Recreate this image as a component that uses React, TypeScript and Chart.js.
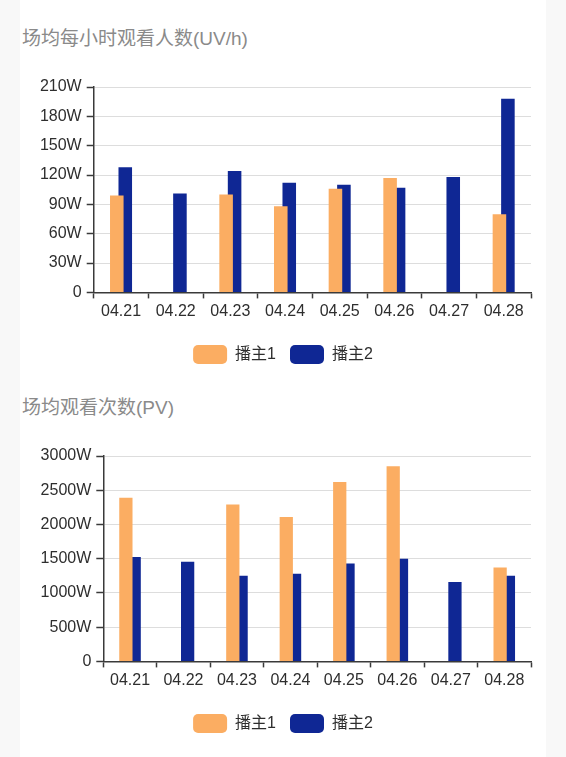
import React, { useEffect, useRef } from "react";
import { Chart, registerables } from "chart.js";

Chart.register(...registerables);

const categories = ["04.21", "04.22", "04.23", "04.24", "04.25", "04.26", "04.27", "04.28"];
const seriesNames = ["播主1", "播主2"];

const uvTitle = "场均每小时观看人数(UV/h)";
const uvHost1 = [99, null, 100, 88, 106, 117, null, 80];
const uvHost2 = [128, 101, 124, 112, 110, 107, 118, 198];
const uvMax = 210;
const uvStep = 30;

const pvTitle = "场均观看次数(PV)";
const pvHost1 = [2390, null, 2290, 2110, 2620, 2850, null, 1370];
const pvHost2 = [1525, 1455, 1250, 1280, 1430, 1500, 1160, 1250];
const pvMax = 3000;
const pvStep = 500;

const ORANGE = "#FBAD62";
const BLUE = "#0F2794";
const AXIS = "#3a3a3a";
const TEXT = "#2e2e2e";
const GRID = "#dddddd";
const FONT = "'Liberation Sans', Arial, 'Noto Sans CJK SC', sans-serif";

type Props = {
  title: string;
  top: number;
  d1: (number | null)[];
  d2: (number | null)[];
  max: number;
  step: number;
  axisWidth: number;
};

function BarBlock({ title, top, d1, d2, max, step, axisWidth }: Props) {
  const ref = useRef<HTMLCanvasElement>(null);
  useEffect(() => {
    const chart = new Chart(ref.current as HTMLCanvasElement, {
      type: "bar",
      data: {
        labels: categories,
        datasets: [
          {
            label: seriesNames[0],
            data: d1 as any,
            backgroundColor: ORANGE,
            categoryPercentage: 0.31,
            barPercentage: 1.6,
          },
          {
            label: seriesNames[1],
            data: d2 as any,
            backgroundColor: BLUE,
            categoryPercentage: 0.31,
            barPercentage: 1.6,
          },
        ],
      },
      options: {
        animation: false,
        responsive: false,
        maintainAspectRatio: false,
        layout: { padding: { left: 35, right: 35, top: 87, bottom: 0 } },
        plugins: {
          title: { display: false },
          tooltip: { enabled: false },
          legend: {
            position: "bottom",
            labels: {
              boxWidth: 34,
              boxHeight: 19,
              useBorderRadius: true,
              borderRadius: 5,
              padding: 14,
              color: TEXT,
              font: { size: 16, family: FONT },
            },
          },
        },
        scales: {
          x: {
            offset: true,
            grid: {
              offset: true,
              drawOnChartArea: false,
              drawTicks: true,
              tickLength: 6,
              tickColor: AXIS,
              tickWidth: 1.5,
            },
            border: { color: AXIS, width: 1.5 },
            ticks: {
              color: TEXT,
              font: { size: 16, family: FONT },
              padding: 4,
              maxRotation: 0,
              autoSkip: false,
            },
            afterFit: (s: any) => {
              s.height = 38.6;
            },
          },
          y: {
            min: 0,
            max: max,
            ticks: {
              stepSize: step,
              color: TEXT,
              font: { size: 16, family: FONT },
              padding: 5,
              callback: (v: any) => (Number(v) === 0 ? "0" : v + "W"),
            },
            grid: {
              color: GRID,
              lineWidth: 1,
              tickColor: AXIS,
              tickLength: 7,
              tickWidth: 1.5,
            },
            border: { color: AXIS, width: 1.5 },
            afterFit: (s: any) => {
              s.width = axisWidth;
            },
          },
        },
      },
    });
    return () => chart.destroy();
  }, []);

  return (
    <>
      <div
        style={{
          position: "absolute",
          left: 22,
          top: top + 28,
          fontSize: 19,
          lineHeight: "21px",
          color: "#8a8a8a",
          fontFamily: FONT,
          whiteSpace: "nowrap",
        }}
      >
        {title}
      </div>
      <canvas
        ref={ref}
        width={566}
        height={374}
        style={{ position: "absolute", left: 0, top: top, width: 566, height: 374 }}
      />
    </>
  );
}

export default function App() {
  return (
    <div
      style={{
        position: "absolute",
        left: 0,
        top: 0,
        width: 566,
        height: 757,
        background: "#f8f8f8",
        overflow: "hidden",
      }}
    >
      <div
        style={{
          position: "absolute",
          left: 20,
          top: 0,
          width: 526,
          height: 757,
          background: "#ffffff",
        }}
      />
      <BarBlock title={uvTitle} top={0} d1={uvHost1} d2={uvHost2} max={uvMax} step={uvStep} axisWidth={58.7} />
      <BarBlock title={pvTitle} top={368.5} d1={pvHost1} d2={pvHost2} max={pvMax} step={pvStep} axisWidth={68.3} />
    </div>
  );
}
